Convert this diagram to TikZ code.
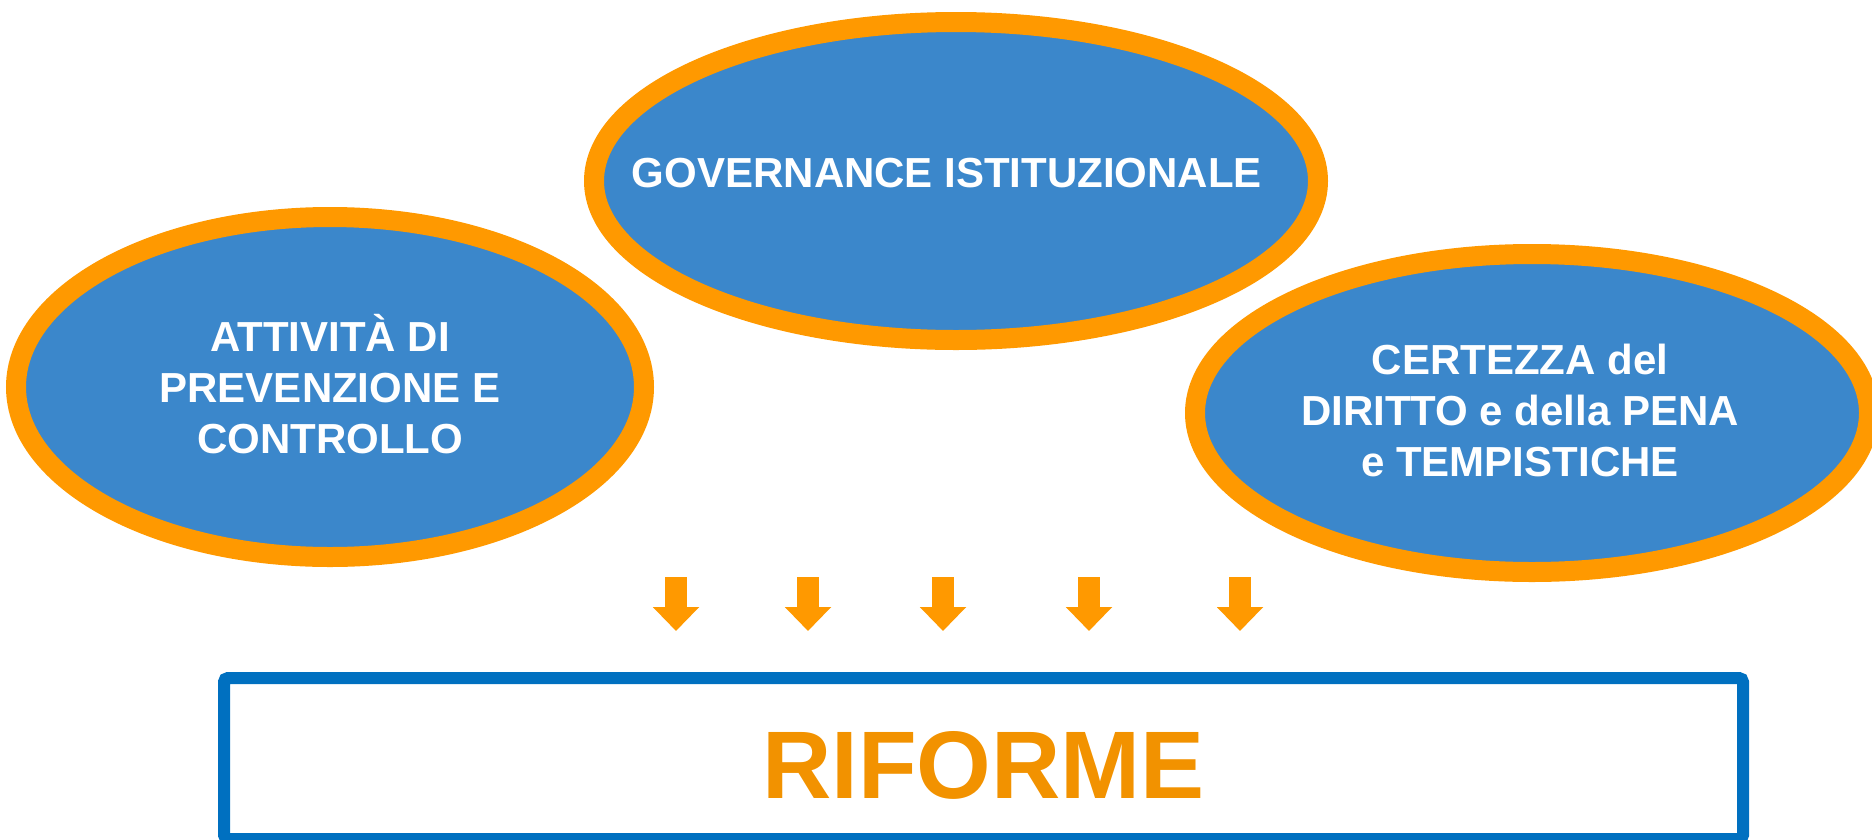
\documentclass[tikz,border=0pt]{standalone}
\usepackage{fontspec}
\setmainfont{Liberation Sans}
\usetikzlibrary{arrows.meta, shapes.geometric}
\definecolor{ringorange}{HTML}{FF9900}
\definecolor{ovalblue}{HTML}{3B87CB}
\definecolor{boxblue}{HTML}{0070C0}
\definecolor{textorange}{HTML}{F29200}
\tikzset{
  oval/.style = {ellipse, draw = ringorange, line width = 20pt, fill = ovalblue, inner sep = 0pt},
  ovaltext/.style = {text = white, align = center, font = \bfseries\fontsize{42}{51}\selectfont},
  flow/.style = {draw = ringorange, line width = 22pt, -{Triangle[width = 45pt, length = 24pt]}}
}
\begin{document}
\begin{tikzpicture}[x = 1pt, y = -1pt]
\useasboundingbox (0,0) rectangle (1872,839);
% the three themes
\draw(956,181) node[oval, minimum width = 724pt, minimum height = 318pt] (governance) {};
\draw(330,387) node[oval, minimum width = 628pt, minimum height = 340pt] (attivita) {};
\draw(1532,413) node[oval, minimum width = 674pt, minimum height = 318pt] (certezza) {};
\node[ovaltext] (governancetext) at ([xshift = -9pt, yshift = 8pt]governance) {GOVERNANCE ISTITUZIONALE};
\node[ovaltext] (attivitatext) at ([yshift = 3pt]attivita) {ATTIVITÀ DI\\PREVENZIONE E\\CONTROLLO};
\node[ovaltext] (certezzatext) at ([xshift = -12pt, yshift = 3pt]certezza) {CERTEZZA del\\DIRITTO e della PENA\\e TEMPISTICHE};
% the result
\draw(983.5,758.5) node[draw = boxblue, line width = 12pt, rounded corners = 4pt, minimum width = 1519pt, minimum height = 161pt] (riforme) {};
\node[text = textorange, font = \bfseries\fontsize{96}{110}\selectfont] (riformetext) at ([yshift = -7pt]riforme) {RIFORME};
\foreach \x [count = \i] in {676,808,943,1089,1240} {
  \coordinate (top\i) at (\x,577);
  \coordinate (tip\i) at (\x,631);
  \draw[flow] (top\i) -- (tip\i);
}
\end{tikzpicture}
\end{document}
